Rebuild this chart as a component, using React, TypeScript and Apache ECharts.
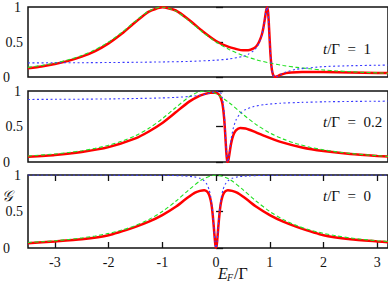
import React, { useEffect, useRef } from "react";
import * as echarts from "echarts";

type P = [number, number][];

// x tick labels (E_F / Gamma)
const xTicks = [-3, -2, -1, 0, 1, 2, 3];
const panelLabels = ["1", "0.2", "0"];

// ---- t/Γ = 1 ----
const red1: P = [[-3.5,0.125],[-3.25,0.15],[-3,0.185],[-2.75,0.23],[-2.5,0.29],[-2.25,0.37],[-2,0.48],[-1.75,0.62],[-1.5,0.785],[-1.25,0.935],[-1,0.995],[-0.75,0.95],[-0.5,0.815],[-0.25,0.655],[0,0.515],[0.2,0.44],[0.4,0.395],[0.5,0.382],[0.6,0.383],[0.7,0.41],[0.75,0.44],[0.8,0.5],[0.85,0.6],[0.88,0.7],[0.91,0.84],[0.93,0.94],[0.95,0.995],[0.97,0.915],[0.99,0.65],[1.01,0.355],[1.03,0.16],[1.05,0.06],[1.07,0.018],[1.09,0.003],[1.1,0],[1.12,0.004],[1.15,0.014],[1.2,0.032],[1.3,0.055],[1.4,0.066],[1.6,0.072],[2,0.07],[2.5,0.064],[3,0.058],[3.2,0.056]];
const green1: P = [[-3.5,0.1379],[-3.25,0.165],[-3,0.2],[-2.75,0.246],[-2.5,0.3077],[-2.25,0.3902],[-2,0.5],[-1.75,0.64],[-1.5,0.8],[-1.25,0.9412],[-1,1],[-0.75,0.9412],[-0.5,0.8],[-0.25,0.64],[0,0.5],[0.25,0.3902],[0.5,0.3077],[0.75,0.246],[1,0.2],[1.25,0.165],[1.5,0.1379],[1.75,0.1168],[2,0.1],[2.25,0.0865],[2.5,0.0755],[2.75,0.0664],[3,0.0588],[3.2,0.0536]];
const blue1: P = [[-3.5,0.201],[-3,0.203],[-2.5,0.204],[-2,0.207],[-1.5,0.21],[-1,0.215],[-0.5,0.223],[0,0.24],[0.25,0.258],[0.5,0.295],[0.6,0.325],[0.7,0.376],[0.75,0.419],[0.8,0.485],[0.85,0.594],[0.88,0.698],[0.91,0.839],[0.93,0.943],[0.95,1.0],[0.97,0.913],[0.99,0.647],[1.01,0.352],[1.03,0.156],[1.05,0.057],[1.07,0.015],[1.09,0.001],[1.1,0],[1.12,0.003],[1.15,0.014],[1.2,0.036],[1.3,0.071],[1.5,0.111],[2,0.148],[2.5,0.161],[3,0.168],[3.2,0.17]];

// ---- t/Γ = 0.2 ----
const red2: P = [[-3.5,0.075],[-3,0.1],[-2.5,0.142],[-2,0.21],[-1.5,0.333],[-1.25,0.43],[-1,0.55],[-0.75,0.7],[-0.5,0.85],[-0.3,0.935],[-0.2,0.96],[-0.1,0.975],[0,0.975],[0.03,0.965],[0.06,0.945],[0.09,0.9],[0.12,0.815],[0.15,0.62],[0.17,0.4],[0.19,0.145],[0.205,0.025],[0.216,0],[0.23,0.03],[0.25,0.12],[0.28,0.26],[0.32,0.375],[0.37,0.445],[0.45,0.48],[0.55,0.473],[0.7,0.432],[0.9,0.368],[1.2,0.283],[1.6,0.205],[2,0.155],[2.5,0.112],[3,0.084],[3.2,0.076]];
const green2: P = [[-3.5,0.0841],[-3,0.1131],[-2.75,0.1333],[-2.5,0.159],[-2.25,0.1922],[-2,0.2358],[-1.75,0.2939],[-1.5,0.3717],[-1.25,0.4756],[-1,0.6098],[-0.75,0.7678],[-0.5,0.9174],[-0.35,0.978],[-0.2,1],[-0.1,0.99],[0,0.9615],[0.25,0.8316],[0.5,0.6711],[0.75,0.5256],[1,0.4098],[1.25,0.3223],[1.5,0.2571],[1.75,0.2082],[2,0.1712],[2.25,0.1428],[2.5,0.1206],[2.75,0.1031],[3,0.089],[3.2,0.0796]];
const blue2: P = [[-3.5,0.881],[-3,0.883],[-2.5,0.885],[-2,0.888],[-1.5,0.894],[-1,0.9025],[-0.75,0.91],[-0.5,0.923],[-0.3,0.939],[-0.2,0.955],[-0.1,0.974],[-0.05,0.986],[0,0.996],[0.03,0.996],[0.06,0.995],[0.09,0.971],[0.12,0.898],[0.15,0.695],[0.17,0.45],[0.19,0.165],[0.205,0.029],[0.216,0],[0.23,0.034],[0.25,0.145],[0.28,0.318],[0.32,0.474],[0.37,0.589],[0.45,0.685],[0.55,0.739],[0.7,0.781],[0.9,0.809],[1.2,0.828],[1.6,0.84],[2,0.8475],[2.5,0.853],[3,0.856],[3.2,0.857]];

// ---- t/Γ = 0 ----
const red3: P = [[-3.5,0.065],[-3,0.09],[-2.5,0.12],[-2,0.175],[-1.5,0.29],[-1.25,0.36],[-1,0.45],[-0.75,0.565],[-0.6,0.65],[-0.5,0.705],[-0.4,0.755],[-0.3,0.782],[-0.22,0.792],[-0.17,0.775],[-0.13,0.73],[-0.1,0.655],[-0.08,0.57],[-0.06,0.44],[-0.04,0.27],[-0.02,0.09],[-0.01,0.03],[0,0],[0.01,0.03],[0.02,0.09],[0.04,0.27],[0.06,0.44],[0.08,0.57],[0.1,0.655],[0.13,0.73],[0.17,0.775],[0.22,0.792],[0.3,0.782],[0.4,0.755],[0.5,0.705],[0.6,0.65],[0.75,0.565],[1,0.45],[1.25,0.36],[1.5,0.29],[2,0.175],[2.5,0.12],[3,0.09],[3.2,0.08]];
const green3: P = [[-3.5,0.0755],[-3.25,0.0865],[-3,0.1],[-2.75,0.1168],[-2.5,0.1379],[-2.25,0.165],[-2,0.2],[-1.75,0.246],[-1.5,0.3077],[-1.25,0.3902],[-1,0.5],[-0.75,0.64],[-0.5,0.8],[-0.25,0.9412],[0,1],[0.25,0.9412],[0.5,0.8],[0.75,0.64],[1,0.5],[1.25,0.3902],[1.5,0.3077],[1.75,0.246],[2,0.2],[2.25,0.165],[2.5,0.1379],[2.75,0.1168],[3,0.1],[3.2,0.089]];
const blue3: P = [[-3.5,0.9997],[-2,0.999],[-1,0.996],[-0.6,0.988],[-0.4,0.974],[-0.3,0.955],[-0.22,0.92],[-0.17,0.872],[-0.13,0.8],[-0.1,0.703],[-0.08,0.602],[-0.06,0.46],[-0.04,0.275],[-0.02,0.0865],[-0.01,0.023],[0,0],[0.01,0.023],[0.02,0.0865],[0.04,0.275],[0.06,0.46],[0.08,0.602],[0.1,0.703],[0.13,0.8],[0.17,0.872],[0.22,0.92],[0.3,0.955],[0.4,0.974],[0.6,0.988],[1,0.996],[2,0.999],[3.2,0.9996]];

const panels = [
  { red: red1, green: green1, blue: blue1 },
  { red: red2, green: green2, blue: blue2 },
  { red: red3, green: green3, blue: blue3 },
];

const FONT = "'Liberation Serif', 'DejaVu Serif', serif";
const INK = "#111";

function buildOption() {
  const gridTops = [6, 91, 175];
  const gridHeights = [71, 71, 73];
  const grid = gridTops.map((t, i) => ({
    left: 28,
    top: t,
    width: 368,
    height: gridHeights[i],
    show: true,
    borderColor: INK,
    borderWidth: 1.5,
    backgroundColor: "transparent",
  }));

  const xAxis: any[] = [0, 1, 2].map((i) => ({
    type: "value",
    gridIndex: i,
    min: -3.5,
    max: 3.2,
    axisLine: { show: false },
    splitLine: { show: false },
    axisTick: {
      show: i === 2,
      inside: true,
      length: 6,
      customValues: xTicks,
      lineStyle: { color: INK, width: 1.3 },
    },
    axisLabel: {
      show: i === 2,
      customValues: xTicks,
      margin: 7,
      fontFamily: FONT,
      fontSize: 14,
      color: INK,
    },
  }));
  xAxis.push({
    type: "value",
    gridIndex: 2,
    position: "top",
    min: -3.5,
    max: 3.2,
    axisLine: { show: false },
    splitLine: { show: false },
    axisTick: {
      show: true,
      inside: true,
      length: 6,
      customValues: xTicks,
      lineStyle: { color: INK, width: 1.3 },
    },
    axisLabel: { show: false },
  });

  const yAxis = [0, 1, 2].map((i) => ({
    type: "value",
    gridIndex: i,
    min: 0,
    max: 1,
    interval: 0.5,
    axisLine: { show: false },
    splitLine: { show: false },
    axisTick: { show: true, inside: true, length: 7, lineStyle: { color: INK, width: 1.3 } },
    axisLabel: {
      margin: 5,
      fontFamily: FONT,
      fontSize: 14,
      color: INK,
      formatter: (v: number) => (v === 0 ? "{z|0}" : v === 1 ? "{o|1}" : "0.5"),
      rich: {
        z: { padding: [0, 13, 0, 0], fontFamily: FONT, fontSize: 14, color: INK },
        o: { padding: [0, 2, 0, 0], fontFamily: FONT, fontSize: 14, color: INK },
      },
    },
  }));

  const series: any[] = [];
  panels.forEach((p, i) => {
    series.push({
      type: "line", xAxisIndex: i, yAxisIndex: i, data: p.red, symbol: "none", smooth: 0.2,
      lineStyle: { color: "#ff0000", width: 2.5 }, z: 2,
    });
    series.push({
      type: "line", xAxisIndex: i, yAxisIndex: i, data: p.green, symbol: "none", smooth: 0.3,
      lineStyle: { color: "#22e022", width: 1.1, type: [4, 2.5] }, z: 3,
    });
    series.push({
      type: "line", xAxisIndex: i, yAxisIndex: i, data: p.blue, symbol: "none", smooth: 0.2,
      lineStyle: { color: "#3a3aff", width: 1.1, type: [2, 2.5] }, z: 4,
    });
  });

  const labelTops = [41, 114, 188];
  const graphic: any[] = panelLabels.map((lab, i) => ({
    type: "text",
    left: 323,
    top: labelTops[i],
    style: {
      text: "{i|t}/Γ\u2002=\u2002" + lab,
      fontFamily: FONT,
      fontSize: 15,
      fill: INK,
      rich: { i: { fontFamily: FONT, fontStyle: "italic", fontSize: 15, fill: INK } },
    },
  }));
  graphic.push({
    type: "text", left: 2, top: 188,
    style: { text: "𝒢", fontFamily: FONT + ", 'DejaVu Sans', 'Noto Sans'", fontStyle: "italic", fontSize: 15, fill: INK },
  });
  graphic.push({
    type: "text", left: 218, top: 265,
    style: { text: "E", fontFamily: FONT, fontStyle: "italic", fontSize: 16, fill: INK },
  });
  graphic.push({
    type: "text", left: 227, top: 272,
    style: { text: "F", fontFamily: FONT, fontStyle: "italic", fontSize: 10, fill: INK },
  });
  graphic.push({
    type: "text", left: 234, top: 265,
    style: { text: "/Γ", fontFamily: FONT, fontSize: 16, fill: INK },
  });

  return { animation: false, grid, xAxis, yAxis, series, graphic };
}

export default function App() {
  const ref = useRef<HTMLDivElement>(null);
  useEffect(() => {
    const chart = echarts.init(ref.current!, null, { renderer: "svg" });
    chart.setOption(buildOption() as any);
    return () => chart.dispose();
  }, []);
  return (
    <div
      ref={ref}
      style={{ position: "absolute", left: 0, top: 0, width: 388, height: 284, background: "#fff" }}
    />
  );
}
